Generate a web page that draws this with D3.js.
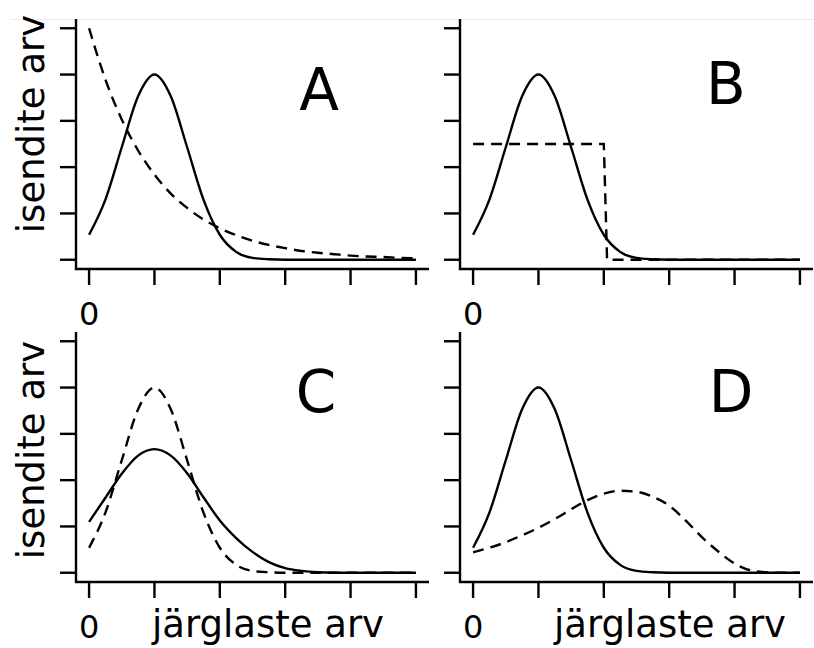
<!DOCTYPE html>
<html>
<head>
    <title>Järglaste ja isendite arv</title>
    <script src="https://cdn.jsdelivr.net/npm/d3@7"></script>
    <style>
        body {
            margin: 0;
            background-color: white;
        }
        svg {
            display: block;
            font-family: "DejaVu Sans", sans-serif;
        }
    </style>
</head>
<body>
    <div id="chart"></div>

    <script>
        // shared x grid for the smooth curves
        const xs = [0, 0.25, 0.5, 0.75, 1, 1.25, 1.5, 1.75, 2, 2.25, 2.5, 2.75, 3, 3.25, 3.5, 3.75, 4, 4.25, 4.5, 4.75, 5];

        // narrow peak (solid in A, B, D; dashed in C)
        const narrowPeak = [0.54, 1.30, 2.43, 3.53, 4.00, 3.53, 2.43, 1.30, 0.54, 0.17, 0.04, 0.01, 0, 0, 0, 0, 0, 0, 0, 0, 0];
        // decaying curve (dashed in A)
        const decay = [5.00, 3.89, 3.03, 2.36, 1.84, 1.43, 1.12, 0.87, 0.68, 0.53, 0.41, 0.32, 0.25, 0.19, 0.15, 0.12, 0.09, 0.07, 0.06, 0.04, 0.03];
        // wide peak (solid in C)
        const widePeak = [1.10, 1.62, 2.14, 2.53, 2.67, 2.53, 2.15, 1.63, 1.13, 0.75, 0.45, 0.23, 0.10, 0.04, 0.01, 0, 0, 0, 0, 0, 0];
        // shifted peak (dashed in D)
        const shiftedPeak = [0.44, 0.54, 0.66, 0.81, 0.97, 1.16, 1.37, 1.57, 1.71, 1.77, 1.75, 1.64, 1.45, 1.13, 0.77, 0.46, 0.20, 0.05, 0.01, 0, 0];
        // step (dashed in B)
        const stepX = [0, 2, 2.05, 5];
        const stepY = [2.5, 2.5, 0, 0];

        const xTicks = [0, 1, 2, 3, 4, 5];
        const yTicks = [0, 1, 2, 3, 4, 5];
        const xTickLabels = ["0", "", "", "", "", ""];
        const panelLetters = ["A", "B", "C", "D"];
        const yLabel = "isendite arv";
        const xLabel = "järglaste arv";

        const toPoints = (px, py) => px.map((v, i) => [v, py[i]]);

        const panels = [
            { letter: panelLetters[0], left: 76, top: 19, lx: 319, ly: 109.5,
              solid: toPoints(xs, narrowPeak), dashed: toPoints(xs, decay), smoothDash: true },
            { letter: panelLetters[1], left: 460, top: 19, lx: 726, ly: 104,
              solid: toPoints(xs, narrowPeak), dashed: toPoints(stepX, stepY), smoothDash: false },
            { letter: panelLetters[2], left: 76, top: 332, lx: 316, ly: 412,
              solid: toPoints(xs, widePeak), dashed: toPoints(xs, narrowPeak), smoothDash: true },
            { letter: panelLetters[3], left: 460, top: 332, lx: 731, ly: 412,
              solid: toPoints(xs, narrowPeak), dashed: toPoints(xs, shiftedPeak), smoothDash: true }
        ];

        const boxW = 353;
        const boxH = 250;
        const tickLen = 16;
        const lw = 2.4;

        const svg = d3.select("#chart")
            .append("svg")
            .attr("width", 814)
            .attr("height", 648);

        svg.append("rect")
            .attr("width", 814)
            .attr("height", 648)
            .attr("fill", "white");

        // faint line along the top edge
        svg.append("line")
            .attr("x1", 10).attr("x2", 814)
            .attr("y1", 19.5).attr("y2", 19.5)
            .attr("stroke", "#ececec")
            .attr("stroke-width", 1);

        panels.forEach((p, i) => {
            // R style: 4% padding on both axes
            const x = d3.scaleLinear().domain([-0.2, 5.2]).range([p.left, p.left + boxW]);
            const y = d3.scaleLinear().domain([-0.2, 5.2]).range([p.top + boxH, p.top]);

            const g = svg.append("g");

            // L-shaped box
            g.append("path")
                .attr("d", `M${p.left},${p.top} V${p.top + boxH} H${p.left + boxW}`)
                .attr("fill", "none")
                .attr("stroke", "black")
                .attr("stroke-width", lw);

            // x ticks
            g.selectAll(".xt")
                .data(xTicks)
                .enter()
                .append("line")
                .attr("x1", d => x(d)).attr("x2", d => x(d))
                .attr("y1", p.top + boxH).attr("y2", p.top + boxH + tickLen)
                .attr("stroke", "black")
                .attr("stroke-width", lw);

            // y ticks
            g.selectAll(".yt")
                .data(yTicks)
                .enter()
                .append("line")
                .attr("x1", p.left - tickLen).attr("x2", p.left)
                .attr("y1", d => y(d)).attr("y2", d => y(d))
                .attr("stroke", "black")
                .attr("stroke-width", lw);

            // x tick labels (only the zero is shown)
            g.selectAll(".xl")
                .data(xTicks)
                .enter()
                .append("text")
                .attr("x", d => x(d))
                .attr("y", i < 2 ? 325 : 638)
                .attr("text-anchor", "middle")
                .style("font-size", "32px")
                .text((d, j) => xTickLabels[j]);

            const smooth = d3.line()
                .x(d => x(d[0]))
                .y(d => y(d[1]))
                .curve(d3.curveMonotoneX);

            const straight = d3.line()
                .x(d => x(d[0]))
                .y(d => y(d[1]));

            g.append("path")
                .attr("d", smooth(p.solid))
                .attr("fill", "none")
                .attr("stroke", "black")
                .attr("stroke-width", lw);

            g.append("path")
                .attr("d", (p.smoothDash ? smooth : straight)(p.dashed))
                .attr("fill", "none")
                .attr("stroke", "black")
                .attr("stroke-width", lw)
                .attr("stroke-dasharray", "11,7");

            // panel letter
            g.append("text")
                .attr("x", p.lx)
                .attr("y", p.ly)
                .attr("text-anchor", "middle")
                .style("font-size", "58px")
                .text(p.letter);
        });

        // y axis labels (left column)
        [124, 450].forEach(cy => {
            svg.append("text")
                .attr("transform", `translate(44,${cy}) rotate(-90)`)
                .attr("text-anchor", "middle")
                .style("font-size", "37px")
                .text(yLabel);
        });

        // x axis labels (bottom row)
        [268, 670].forEach(cx => {
            svg.append("text")
                .attr("x", cx)
                .attr("y", 637)
                .attr("text-anchor", "middle")
                .style("font-size", "37px")
                .text(xLabel);
        });
    </script>
</body>
</html>
